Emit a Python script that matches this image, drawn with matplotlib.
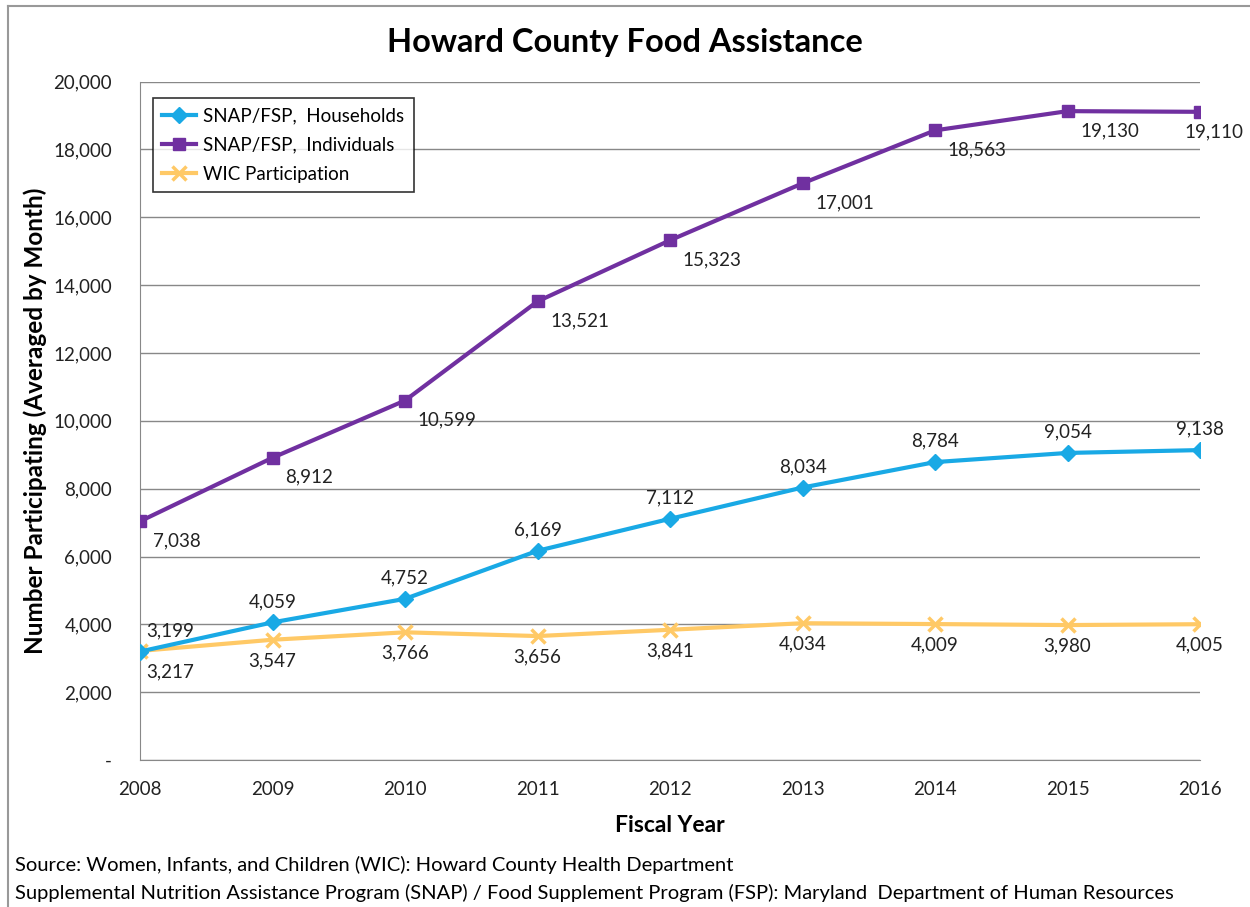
import matplotlib
matplotlib.use("Agg")
import matplotlib.pyplot as plt
from matplotlib.lines import Line2D
from matplotlib.ticker import FuncFormatter

plt.rcParams["font.family"] = ["Lato", "DejaVu Sans"]

years = [2008, 2009, 2010, 2011, 2012, 2013, 2014, 2015, 2016]
households = [3199, 4059, 4752, 6169, 7112, 8034, 8784, 9054, 9138]
individuals = [7038, 8912, 10599, 13521, 15323, 17001, 18563, 19130, 19110]
wic = [3217, 3547, 3766, 3656, 3841, 4034, 4009, 3980, 4005]

BLUE, PURPLE, GOLD = "#19A9E5", "#7030A0", "#FFC966"
TXT = "#222222"

fig = plt.figure(figsize=(12.5, 9.07), dpi=100)
ax = fig.add_axes([0.112, 0.162, 0.848, 0.748])

ax.plot(years, households, color=BLUE, lw=3, marker="D", ms=8, label="SNAP/FSP,  Households", zorder=4)
ax.plot(years, individuals, color=PURPLE, lw=3, marker="s", ms=9, label="SNAP/FSP,  Individuals", zorder=4)
ax.plot(years, wic, color=GOLD, lw=3, marker="x", ms=10, mew=2.5, label="WIC Participation", zorder=3)

# data labels
for x, v in zip(years, households):
    ax.annotate(f"{v:,}", (x, v), xytext=(0 if x > 2008 else 22, 9), textcoords="offset points",
                ha="center", va="bottom", fontsize=13.5, color=TXT)
for x, v in zip(years, individuals):
    dx = -11 if x == years[-1] else 9
    ax.annotate(f"{v:,}", (x, v), xytext=(dx, -8), textcoords="offset points",
                ha="left", va="top", fontsize=13.5, color=TXT)
for x, v in zip(years, wic):
    ax.annotate(f"{v:,}", (x, v), xytext=(0 if x > 2008 else 22, -9), textcoords="offset points",
                ha="center", va="top", fontsize=13.5, color=TXT)

ax.set_xlim(2008, 2016)
ax.set_ylim(0, 20000)
ax.set_xticks(years)
ax.set_yticks(range(0, 20001, 2000))
ax.yaxis.set_major_formatter(FuncFormatter(lambda v, p: "-" if v == 0 else f"{int(v):,}"))
ax.grid(axis="y", color="#888888", lw=1)
ax.set_axisbelow(True)
ax.tick_params(length=0, labelsize=13.5, colors=TXT, pad=15)
ax.tick_params(axis="y", pad=20)
for sp in ["top", "right"]:
    ax.spines[sp].set_visible(False)
for sp in ["left", "bottom"]:
    ax.spines[sp].set_color("#888888")

ax.set_xlabel("Fiscal Year", fontsize=16.5, fontweight="bold", labelpad=12)
ax.set_ylabel("Number Participating (Averaged by Month)", fontsize=17.5, fontweight="bold", labelpad=5)

leg = ax.legend(loc="upper left", bbox_to_anchor=(0.003, 0.99), fontsize=13.5, frameon=True,
                fancybox=False, edgecolor="black", handlelength=1.8, handletextpad=0.4,
                labelspacing=0.65, borderpad=0.5)
leg.get_frame().set_linewidth(1.2)

fig.text(0.5, 0.953, "Howard County Food Assistance", ha="center", va="center",
         fontsize=23.5, fontweight="bold")
fig.text(0.012, 0.046, "Source: Women, Infants, and Children (WIC): Howard County Health Department",
         fontsize=14.5, va="center")
fig.text(0.012, 0.016, "Supplemental Nutrition Assistance Program (SNAP) / Food Supplement Program (FSP): Maryland  Department of Human Resources",
         fontsize=14.5, va="center")

# outer chart frame (left and top edges visible)
fig.add_artist(Line2D([0.006, 0.006], [0, 0.993], transform=fig.transFigure, color="#999999", lw=1.5))
fig.add_artist(Line2D([0.006, 1], [0.993, 0.993], transform=fig.transFigure, color="#999999", lw=1.5))

fig.savefig("out.png", dpi=100)
